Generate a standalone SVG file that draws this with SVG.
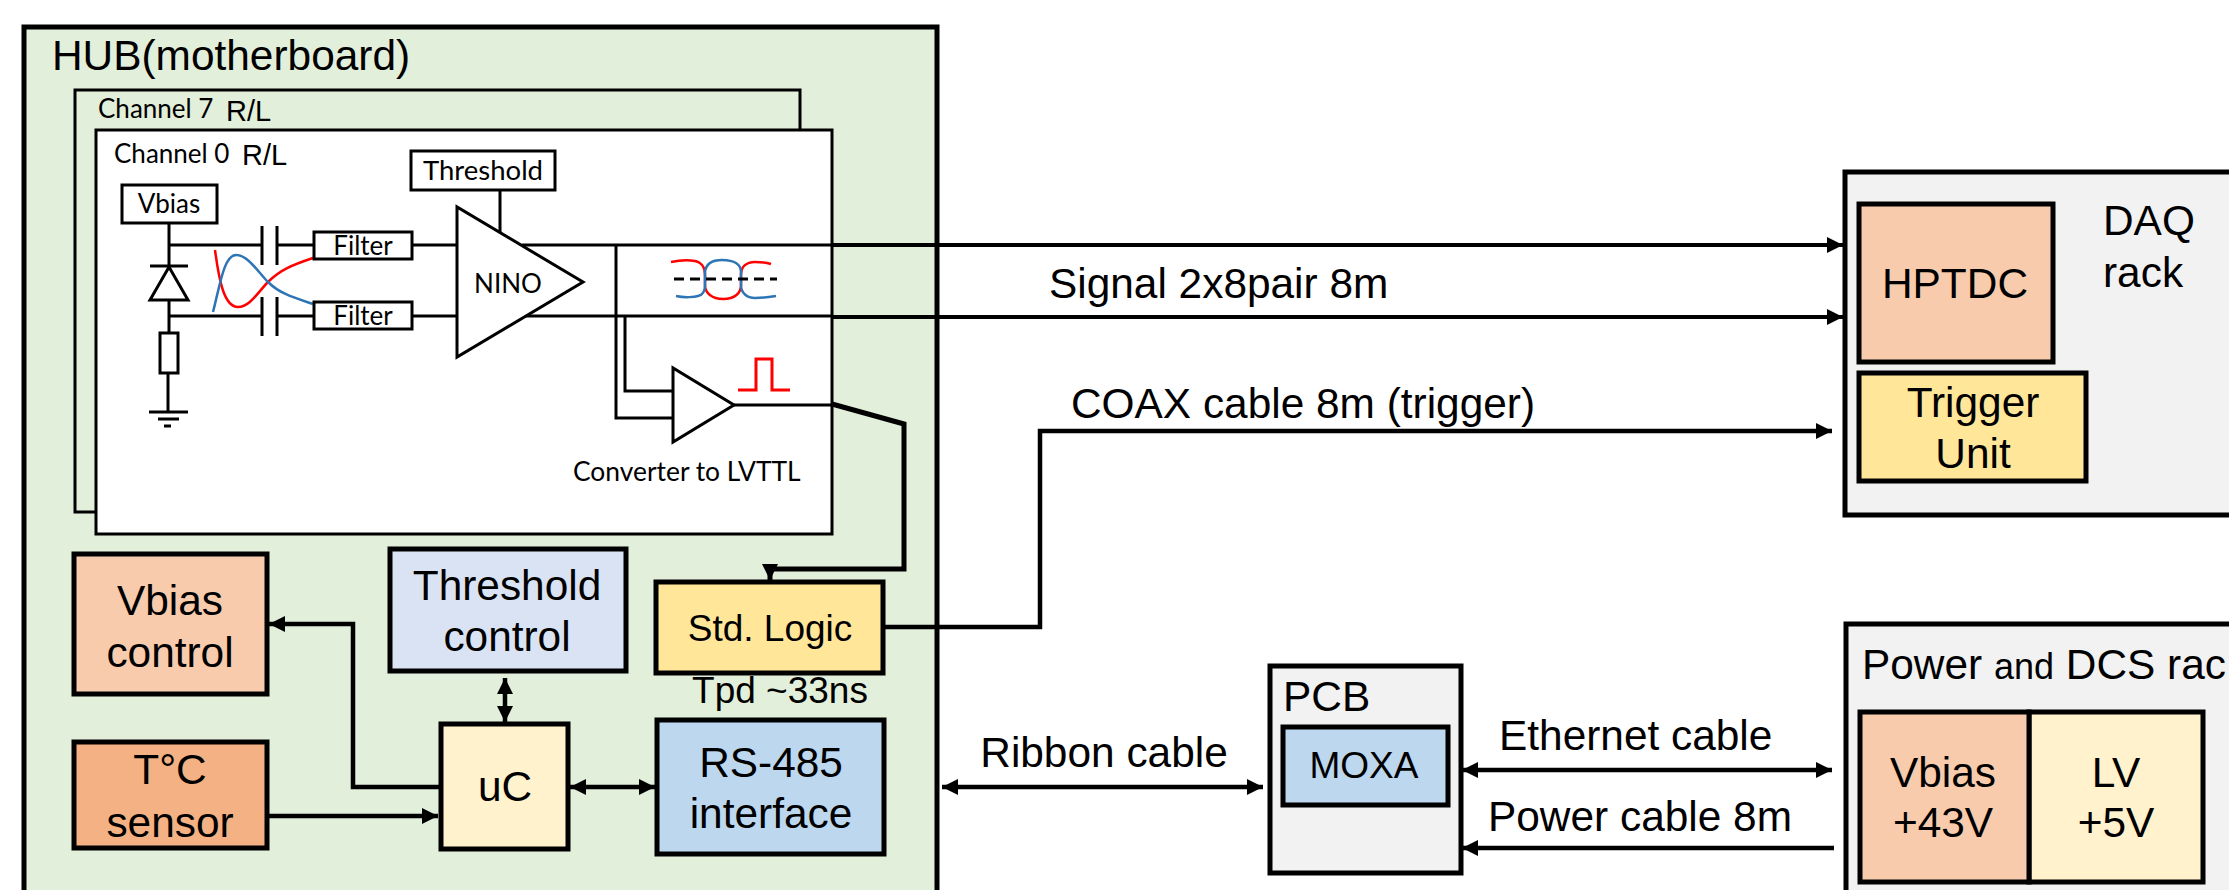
<svg xmlns="http://www.w3.org/2000/svg" width="2229" height="890" viewBox="0 0 2229 890">
<style>
text{font-family:"Liberation Sans",Arial,sans-serif;font-size:42.4px;fill:#000}
.m{text-anchor:middle}
.s{font-size:37px}
.c{font-family:Lato,"Open Sans",sans-serif;font-size:26px}
.r{font-size:29px}
.b{stroke:#000;stroke-width:5}
.t{stroke:#000;stroke-width:3;fill:#fff}
.w{stroke:#000;stroke-width:3;fill:none}
.a{stroke:#000;stroke-width:4.5;fill:none}
.red{stroke:#f00;stroke-width:2.5;fill:none}
.blu{stroke:#2e75b6;stroke-width:2.5;fill:none}
</style>
<defs>
<marker id="e" markerUnits="userSpaceOnUse" markerWidth="16" markerHeight="16" refX="16" refY="8" orient="auto-start-reverse"><path d="M0 0L16 8L0 16z" fill="#000"/></marker>
</defs>
<rect width="2229" height="890" fill="#fff"/>
<g id="hub"><rect x="24" y="27" width="913" height="880" fill="#e2efda" class="b"/><text x="52" y="70">HUB(motherboard)</text></g>
<g id="channel7"><rect x="75" y="90" width="725" height="422" fill="#f2f2f2" class="w"/><text class="c" x="98" y="118">Channel 7</text><text class="r" x="226" y="121">R/L</text></g>
<g id="channel0"><rect x="96" y="130" width="736" height="404" class="t"/><text class="c" x="114" y="163">Channel 0</text><text class="r" x="242" y="165">R/L</text></g>
<g id="circuit">
<path class="w" d="M169 223V333M169 245H262M277 245H314M412 245H457M169 316H262M277 316H314M412 316H457M500 190V232M262 226V265M277 226V265M262 297V336M277 297V336M168 373V412M149 412H188M158 419H179M164 426H171"/>
<path class="w" d="M150 266H188"/>
<path class="t" d="M169 267L150 300H188Z"/>
<rect class="t" x="160" y="333" width="18" height="40"/>
<path class="red" d="M215 250C219 280 224 307 238 307C250 307 258 292 268 282C280 270 292 265 313 258"/>
<path class="blu" d="M213 312C220 285 224 255 236 255C248 255 258 272 268 282C280 294 295 298 313 304"/>
<path class="w" d="M522 245H832M525 316H832M616 245V418H673M625 316V391H673M734 405H832"/>
<path class="t" d="M457 207V357L583 282Z"/>
<path class="t" d="M673 368V442L734 405Z"/>
<path class="red" d="M671 262C680 260 690 260 695 261C703 263 705 268 705 275V285C705 293 712 299 723 299C735 299 741 293 741 285V275C741 267 746 262 755 262C760 262 765 262 771 264"/>
<path class="blu" d="M676 296C685 298 695 297 698 296C703 295 705 291 705 285V272C706 264 712 260 722 260C735 260 741 265 741 272V285C741 293 747 298 755 298C762 298 770 297 776 296"/>
<path d="M674 279H777" stroke="#000" stroke-width="3" stroke-dasharray="10 6" fill="none"/>
<path d="M738 390H756V359H772V390H790" stroke="#f00" stroke-width="3" fill="none"/>
<text class="c" x="573" y="481" style="font-size:26.4px">Converter to LVTTL</text>
</g>
<g id="vbias-small"><rect class="t" x="122" y="185" width="95" height="38"/><text class="c m" x="169" y="213">Vbias</text></g>
<g id="threshold-small"><rect class="t" x="411" y="151" width="144" height="39"/><text class="c m" x="483" y="180" style="font-size:27.5px">Threshold</text></g>
<g id="filter1"><rect class="t" x="314" y="232" width="98" height="27"/><text class="c m" x="363" y="255">Filter</text></g>
<g id="filter2"><rect class="t" x="314" y="302" width="98" height="27"/><text class="c m" x="363" y="325">Filter</text></g>
<g id="nino"><text class="c m" x="508" y="293">NINO</text></g>
<g id="connectors">
<path class="a" d="M832 404L904 424V569H770V580" style="stroke-width:5" marker-end="url(#e)"/>
<path class="a" d="M441 787H353V624H269" marker-end="url(#e)"/>
<path class="a" d="M267 816H438" marker-end="url(#e)"/>
<path class="a" d="M505 678V722" marker-start="url(#e)" marker-end="url(#e)"/>
<path class="a" d="M570 787H655" marker-start="url(#e)" marker-end="url(#e)"/>
<path class="a" d="M883 627H1040V431H1832" marker-end="url(#e)"/>
<path class="a" style="stroke-width:4" d="M832 245H1843" marker-end="url(#e)"/>
<path class="a" style="stroke-width:4" d="M832 317H1843" marker-end="url(#e)"/>
<path class="a" d="M942 787H1263" marker-start="url(#e)" marker-end="url(#e)"/>
<path class="a" d="M1462 770H1832" marker-start="url(#e)" marker-end="url(#e)"/>
<path class="a" d="M1834 848H1462" marker-end="url(#e)"/>
</g>
<g id="vbias-control"><rect class="b" x="74" y="554" width="193" height="140" fill="#f8cbad"/><text class="m" x="170" y="615">Vbias</text><text class="m" x="170" y="667">control</text></g>
<g id="threshold-control"><rect class="b" x="390" y="549" width="236" height="122" fill="#dae3f3"/><text class="m" x="507" y="600">Threshold</text><text class="m" x="507" y="651">control</text></g>
<g id="std-logic"><rect class="b" x="656" y="582" width="227" height="91" fill="#ffe699"/><text class="m s" x="770" y="641">Std. Logic</text></g>
<text class="m s" x="780" y="703">Tpd ~33ns</text>
<g id="temp-sensor"><rect class="b" x="74" y="742" width="193" height="106" fill="#f4b183"/><text class="m" x="170" y="784">T°C</text><text class="m" x="170" y="837">sensor</text></g>
<g id="uc"><rect class="b" x="441" y="724" width="127" height="125" fill="#fff2cc"/><text class="m" x="505" y="801">uC</text></g>
<g id="rs485"><rect class="b" x="657" y="720" width="227" height="134" fill="#bdd7ee"/><text class="m" x="771" y="777">RS-485</text><text class="m" x="771" y="828">interface</text></g>
<g id="labels"><text x="1049" y="298">Signal 2x8pair 8m</text><text x="1071" y="418">COAX cable 8m (trigger)</text><text class="m" x="1104" y="767">Ribbon cable</text><text x="1499" y="750">Ethernet cable</text><text x="1488" y="831">Power cable 8m</text></g>
<g id="pcb"><rect class="b" x="1270" y="666" width="191" height="207" fill="#f2f2f2"/><text x="1283" y="711">PCB</text></g>
<g id="moxa"><rect class="b" x="1283" y="727" width="165" height="78" fill="#bdd7ee"/><text class="m s" x="1364" y="778">MOXA</text></g>
<g id="daq-rack"><rect class="b" x="1845" y="172" width="420" height="343" fill="#f2f2f2"/><text x="2103" y="235">DAQ</text><text x="2103" y="287">rack</text></g>
<g id="hptdc"><rect class="b" x="1859" y="204" width="194" height="158" fill="#f8cbad"/><text class="m" x="1955" y="298">HPTDC</text></g>
<g id="trigger"><rect class="b" x="1859" y="373" width="227" height="108" fill="#ffe699"/><text class="m" x="1973" y="417">Trigger</text><text class="m" x="1973" y="468">Unit</text></g>
<g id="power-rack"><rect class="b" x="1846" y="624" width="420" height="290" fill="#f2f2f2"/><text x="1862" y="679">Power <tspan style="font-size:36px">and</tspan> DCS rac</text></g>
<g id="lv"><rect class="b" x="2029" y="712" width="174" height="170" fill="#fff2cc"/><text class="m" x="2116" y="787">LV</text><text class="m" x="2116" y="837">+5V</text></g>
<g id="vbias-psu"><rect class="b" x="1860" y="712" width="169" height="170" fill="#f8cbad"/><text class="m" x="1943" y="787">Vbias</text><text class="m" x="1943" y="837">+43V</text></g>
</svg>
